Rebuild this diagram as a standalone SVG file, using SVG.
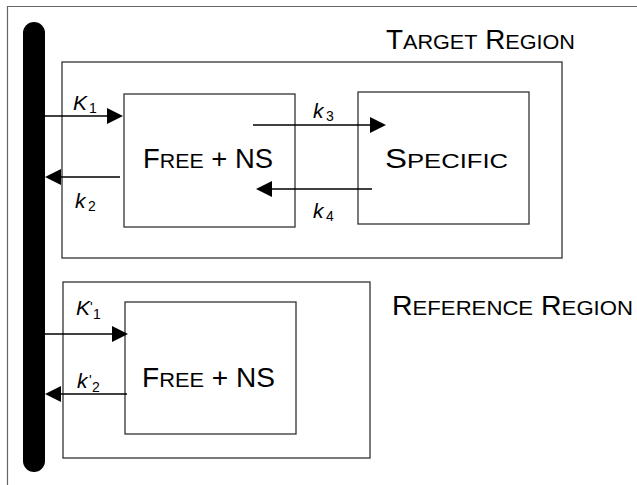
<svg xmlns="http://www.w3.org/2000/svg" width="637" height="485" viewBox="0 0 637 485">
<defs>
<style>
.frame{fill:none;stroke:#666;stroke-width:1.2}
.box{fill:#fff;stroke:#333;stroke-width:1.3}
.region{fill:none;stroke:#333;stroke-width:1.3}
.arr{stroke:#000;stroke-width:1.6;fill:none}
.head{fill:#000}
.big{font-family:"Liberation Sans",Arial,sans-serif;font-size:27px;fill:#000}
.sc{font-size:21px}
.lab{font-family:"Liberation Sans",Arial,sans-serif;font-size:21px;font-style:italic;fill:#000}
.sub{font-size:14px;font-style:normal}
</style>
</defs>
<rect width="637" height="485" fill="#fff"/>
<path class="frame" d="M7.5,485 V6.5 H637"/>
<g id="membrane">
<line x1="34" y1="33" x2="34" y2="461" stroke="#000" stroke-width="22" stroke-linecap="round"/>
</g>
<g id="target-region">
<rect class="region" x="62" y="62" width="500" height="196"/>
<text class="big" x="386" y="49" textLength="189" lengthAdjust="spacingAndGlyphs">T<tspan class="sc">ARGET</tspan> R<tspan class="sc">EGION</tspan></text>
</g>
<g id="free-ns-target">
<rect class="box" x="124" y="94" width="171" height="133"/>
<text class="big" x="143" y="168" textLength="130" lengthAdjust="spacingAndGlyphs">F<tspan class="sc">REE</tspan> + NS</text>
</g>
<g id="specific">
<rect class="box" x="358" y="92" width="171" height="132"/>
<text class="big" x="385" y="168" textLength="123" lengthAdjust="spacingAndGlyphs">S<tspan class="sc">PECIFIC</tspan></text>
</g>
<g id="reference-region">
<rect class="region" x="63" y="282" width="307" height="176"/>
<text class="big" x="392" y="315" textLength="241" lengthAdjust="spacingAndGlyphs">R<tspan class="sc">EFERENCE</tspan> R<tspan class="sc">EGION</tspan></text>
</g>
<g id="free-ns-reference">
<rect class="box" x="125" y="302" width="171" height="132"/>
<text class="big" x="142" y="387" textLength="133" lengthAdjust="spacingAndGlyphs">F<tspan class="sc">REE</tspan> + NS</text>
</g>
<g id="connectors">
<line class="arr" x1="45" y1="116" x2="108" y2="116"/>
<polygon class="head" points="107,108 123,116 107,124"/>
<line class="arr" x1="120" y1="177" x2="60" y2="177"/>
<polygon class="head" points="61,169 45,177 61,185"/>
<line class="arr" x1="253" y1="125" x2="371" y2="125"/>
<polygon class="head" points="370,117 386,125 370,133"/>
<line class="arr" x1="372" y1="189" x2="271" y2="189"/>
<polygon class="head" points="272,181 256,189 272,197"/>
<line class="arr" x1="45" y1="334" x2="113" y2="334"/>
<polygon class="head" points="112,326 128,334 112,342"/>
<line class="arr" x1="127" y1="394" x2="60" y2="394"/>
<polygon class="head" points="61,386 45,394 61,402"/>
<text class="lab" x="73" y="110">K<tspan class="sub" x="89" y="113">1</tspan></text>
<text class="lab" x="75" y="208">k<tspan class="sub" x="88" y="211">2</tspan></text>
<text class="lab" x="313" y="118">k<tspan class="sub" x="326" y="121">3</tspan></text>
<text class="lab" x="313" y="218">k<tspan class="sub" x="326" y="221">4</tspan></text>
<text class="lab" x="76" y="315">K<tspan class="sub" x="90" y="312">'</tspan><tspan class="sub" x="93" y="319">1</tspan></text>
<text class="lab" x="77" y="388">k<tspan class="sub" x="89" y="385">'</tspan><tspan class="sub" x="92" y="392">2</tspan></text>
</g>
</svg>
